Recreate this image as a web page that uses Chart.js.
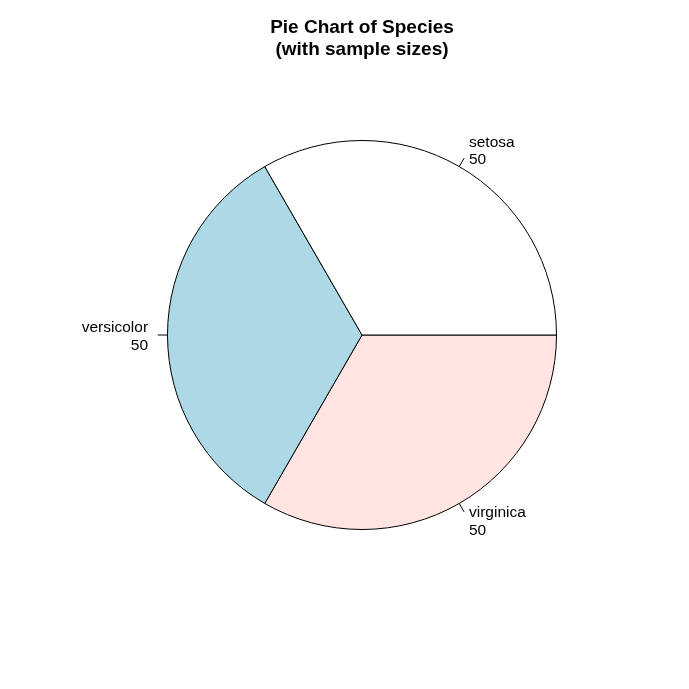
<!DOCTYPE html>
<html><head><meta charset="utf-8">
<script src="https://cdn.jsdelivr.net/npm/chart.js@4"></script>
<style>html,body{margin:0;padding:0;background:#fff}#wrap{width:689px;height:689px}</style>
</head><body><div id="wrap"><canvas id="c" width="689" height="689"></canvas></div>
<script>
// Data (clockwise from 3 o'clock, as R draws counter-clockwise)
const categories = ["virginica", "versicolor", "setosa"];
const counts = [50, 50, 50];
const colors = ["#FFE4E1", "#ADD8E6", "#FFFFFF"];
const titleLines = ["Pie Chart of Species", "(with sample sizes)"];

const labelPlugin = {
  id: 'rlabels',
  afterDraw(chart) {
    const ctx = chart.ctx;
    const meta = chart.getDatasetMeta(0);
    ctx.save();
    ctx.strokeStyle = '#000';
    ctx.lineWidth = 1;
    ctx.fillStyle = '#000';
    ctx.font = '15.5px "Liberation Sans", Arial, sans-serif';
    ctx.textBaseline = 'middle';
    meta.data.forEach((arc, i) => {
      const p = arc.getProps(['x','y','startAngle','endAngle','outerRadius'], true);
      const mid = (p.startAngle + p.endAngle) / 2;
      const c = Math.cos(mid), s = Math.sin(mid);
      const r = p.outerRadius;
      ctx.beginPath();
      ctx.moveTo(p.x + r * c, p.y + r * s);
      ctx.lineTo(p.x + 1.05 * r * c, p.y + 1.05 * r * s);
      ctx.stroke();
      const tx = p.x + 1.1 * r * c, ty = p.y + 1.1 * r * s + 1.5;
      ctx.textAlign = c >= 0 ? 'left' : 'right';
      const lines = [categories[i], String(counts[i])];
      const lh = 17.5;
      lines.forEach((t, k) => {
        ctx.fillText(t, tx, ty + (k - (lines.length - 1) / 2) * lh);
      });
    });
    // title
    ctx.font = 'bold 19px "Liberation Sans", Arial, sans-serif';
    ctx.textAlign = 'center';
    const cx = (chart.chartArea.left + chart.chartArea.right) / 2;
    ctx.fillText(titleLines[0], cx, 27.5);
    ctx.fillText(titleLines[1], cx, 49.5);
    ctx.restore();
  }
};

new Chart(document.getElementById('c'), {
  type: 'pie',
  data: {
    labels: categories,
    datasets: [{
      data: counts,
      backgroundColor: colors,
      borderColor: '#000',
      borderWidth: 1,
      borderAlign: 'center'
    }]
  },
  options: {
    responsive: false,
    animation: false,
    rotation: 90,
    layout: { padding: { left: 167, right: 132, top: 140, bottom: 159 } },
    plugins: { legend: { display: false }, title: { display: false }, tooltip: { enabled: false } },
    elements: { arc: { borderJoinStyle: 'miter' } }
  },
  plugins: [labelPlugin]
});
</script>
</body></html>
